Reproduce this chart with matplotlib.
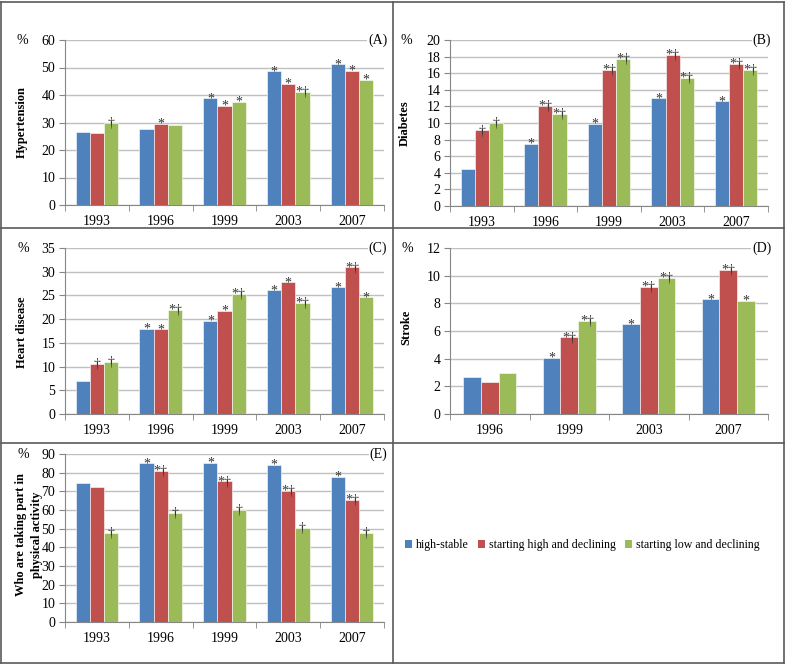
import matplotlib
matplotlib.use('Agg')
import matplotlib.pyplot as plt
from matplotlib.lines import Line2D
from matplotlib.patches import Patch
import numpy as np

plt.rcParams['font.family'] = ['Liberation Serif', 'DejaVu Serif']

W, H = 787, 666

series_names = ['high-stable', 'starting high and declining', 'starting low and declining']
colors = ['#4F81BD', '#C0504D', '#9BBB59']

years5 = ['1993', '1996', '1999', '2003', '2007']
years4 = ['1996', '1999', '2003', '2007']

# (A) hypertension
hyp_high = [26.4, 27.6, 38.9, 48.7, 51.2]
hyp_hdecl = [26.2, 29.5, 36.1, 44.1, 48.8]
hyp_ldecl = [29.8, 29.0, 37.5, 41.1, 45.6]
hyp_sig = [['', '', '*', '*', '*'],
           ['', '*', '*', '*', '*'],
           ['†', '', '*', '*†', '*']]

# (B) diabetes
dia_high = [4.5, 7.5, 9.9, 13.0, 12.6]
dia_hdecl = [9.1, 12.1, 16.4, 18.2, 17.1]
dia_ldecl = [10.0, 11.1, 17.7, 15.4, 16.4]
dia_sig = [['', '*', '*', '*', '*'],
           ['†', '*†', '*†', '*†', '*†'],
           ['†', '*†', '*†', '*†', '*†']]

# (C) heart disease
hrt_high = [7.0, 18.0, 19.7, 26.1, 26.8]
hrt_hdecl = [10.5, 17.9, 21.8, 27.8, 30.9]
hrt_ldecl = [11.0, 22.0, 25.4, 23.5, 24.6]
hrt_sig = [['', '*', '*', '*', '*'],
           ['†', '*', '*', '*', '*†'],
           ['†', '*†', '*†', '*†', '*']]

# (D) stroke
stk_high = [2.7, 4.07, 6.5, 8.29]
stk_hdecl = [2.3, 5.54, 9.18, 10.4]
stk_ldecl = [3.0, 6.7, 9.83, 8.19]
stk_sig = [['', '*', '*', '*'],
           ['', '*†', '*†', '*†'],
           ['', '*†', '*†', '*']]

# (E) physical activity
pa_high = [74.4, 85.2, 85.3, 84.3, 77.8]
pa_hdecl = [72.2, 80.9, 75.3, 70.3, 65.4]
pa_ldecl = [47.9, 58.4, 60.1, 50.2, 47.7]
pa_sig = [['', '*', '*', '*', '*'],
          ['', '*†', '*†', '*†', '*†'],
          ['†', '†', '†', '†', '†']]

panels = [
    dict(box=(65, 384, 40, 205), years=years5, vals=[hyp_high, hyp_hdecl, hyp_ldecl], sig=hyp_sig,
         ymax=60, step=10, letter='(A)', ylabel='Hypertension', pct=(22, 40), lab=(22, 122)),
    dict(box=(450, 768, 40, 206), years=years5, vals=[dia_high, dia_hdecl, dia_ldecl], sig=dia_sig,
         ymax=20, step=2, letter='(B)', ylabel='Diabetes', pct=(406, 40), lab=(405, 123)),
    dict(box=(65, 384, 248, 414), years=years5, vals=[hrt_high, hrt_hdecl, hrt_ldecl], sig=hrt_sig,
         ymax=35, step=5, letter='(C)', ylabel='Heart disease', pct=(23, 248), lab=(22, 332)),
    dict(box=(450, 768, 248, 414), years=years4, vals=[stk_high, stk_hdecl, stk_ldecl], sig=stk_sig,
         ymax=12, step=2, letter='(D)', ylabel='Stroke', pct=(407, 248), lab=(406, 327)),
    dict(box=(65, 384, 454, 622), years=years5, vals=[pa_high, pa_hdecl, pa_ldecl], sig=pa_sig,
         ymax=90, step=10, letter='(E)', ylabel='Who are taking part in\nphysical activity',
         pct=(23, 454), lab=(29, 535)),
]

fig = plt.figure(figsize=(W / 100, H / 100), dpi=100)

axis_col = '#868686'
grid_col = '#c0c0c0'
bw = 0.222

for p in panels:
    x0, x1, yt, yb = p['box']
    ax = fig.add_axes([x0 / W, 1 - yb / H, (x1 - x0) / W, (yb - yt) / H])
    n = len(p['years'])
    x = np.arange(n)
    for i, v in enumerate(p['vals']):
        xs = x + (i - 1) * bw
        ax.bar(xs, v, width=bw, color=colors[i], edgecolor='white', linewidth=0.4, zorder=3)
        for xi, vi, s in zip(xs, v, p['sig'][i]):
            if s:
                ax.annotate(s, (xi, vi), xytext=(0, -3), textcoords='offset points',
                            ha='center', va='baseline', fontsize=10, color='#333333', zorder=6,
                            annotation_clip=False)
    ax.set_xlim(-0.5, n - 0.5)
    ax.set_ylim(0, p['ymax'])
    ax.set_yticks(np.arange(0, p['ymax'] + 0.01, p['step']))
    ax.set_xticks(x)
    ax.set_xticklabels(p['years'])
    ax.set_xticks(np.arange(-0.5, n, 1), minor=True)
    ax.tick_params(axis='x', which='major', length=0, pad=7, labelsize=10)
    ax.tick_params(axis='x', which='minor', length=4, color=axis_col)
    ax.tick_params(axis='y', length=4, color=axis_col, labelsize=10, pad=3)
    ax.grid(axis='y', color=grid_col, linewidth=1, zorder=0)
    ax.set_axisbelow(True)
    for sp in ['top', 'right']:
        ax.spines[sp].set_visible(False)
    for sp in ['left', 'bottom']:
        ax.spines[sp].set_color(axis_col)
    ax.text(1.01, 1.0, p['letter'], transform=ax.transAxes, ha='right', va='center', fontsize=10,
            bbox=dict(facecolor='white', edgecolor='none', pad=0.5), zorder=5)
    fig.text(p['pct'][0] / W, 1 - p['pct'][1] / H, '%', ha='center', va='center', fontsize=10)
    fig.text(p['lab'][0] / W, 1 - p['lab'][1] / H, p['ylabel'], rotation=90, ha='center', va='center',
             fontsize=9, fontweight='bold', linespacing=1.35)

handles = [Patch(facecolor=c, edgecolor='none') for c in colors]
fig.legend(handles, series_names, loc='center left', bbox_to_anchor=(400 / W, 1 - 545 / H),
           ncol=3, frameon=False, fontsize=8.6, handlelength=0.6, handleheight=0.6,
           handletextpad=0.35, columnspacing=0.75, borderaxespad=0)

# cell borders
bc = '#5a5a5a'
def hline(y, xa, xb):
    fig.add_artist(Line2D([xa / W, xb / W], [1 - y / H, 1 - y / H], color=bc, linewidth=1.2))
def vline(x, ya, yb):
    fig.add_artist(Line2D([x / W, x / W], [1 - ya / H, 1 - yb / H], color=bc, linewidth=1.2))

hline(2, 1, 784)
hline(228, 1, 784)
hline(443, 1, 784)
hline(663, 1, 784)
vline(1, 2, 663)
vline(784, 2, 663)
vline(393, 2, 663)

fig.savefig('out.png', dpi=100)
